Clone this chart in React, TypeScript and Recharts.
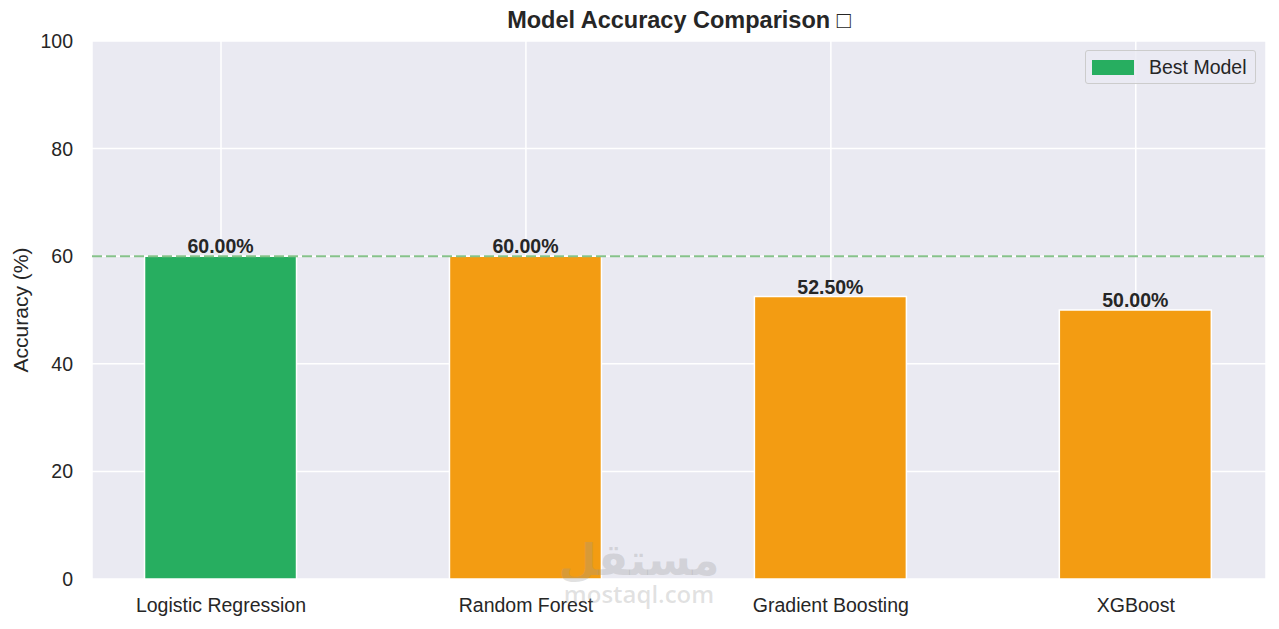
import React from 'react';
import {
  BarChart,
  Bar,
  Cell,
  XAxis,
  YAxis,
  CartesianGrid,
  ReferenceLine,
  LabelList,
} from 'recharts';

const models = ['Logistic Regression', 'Random Forest', 'Gradient Boosting', 'XGBoost'];
const accuracy = [60.0, 60.0, 52.5, 50.0];
const yTicks = [0, 20, 40, 60, 80, 100];
const bestAccuracy = 60.0;

const GREEN = '#27AE60';
const ORANGE = '#F39C12';
const TEXT = '#262626';
const FONT = '"Liberation Sans", Arial, sans-serif';

const data = models.map((name, i) => ({ idx: i, name, value: accuracy[i] }));

function LegendBox() {
  return (
    <div
      style={{
        position: 'absolute',
        left: 1085,
        top: 50,
        width: 171,
        height: 34,
        border: '1px solid #cccccc',
        borderRadius: 3,
        background: 'rgba(234,234,242,0.8)',
        boxSizing: 'border-box',
        fontFamily: FONT,
        fontSize: 19.5,
        color: TEXT,
        display: 'flex',
        alignItems: 'center',
      }}
    >
      <span style={{ display: 'inline-block', width: 42, height: 15, background: GREEN, marginLeft: 6 }} />
      <span style={{ marginLeft: 15 }}>Best Model</span>
    </div>
  );
}

export default function App() {
  return (
    <div style={{ position: 'absolute', left: 0, top: 0, width: 1279, height: 629, background: '#fff', fontFamily: FONT }}>
      <div
        style={{
          position: 'absolute',
          left: 92,
          width: 1174,
          top: 8,
          textAlign: 'center',
          fontWeight: 'bold',
          fontSize: 23.5,
          color: TEXT,
          lineHeight: 1.1,
        }}
      >
        Model Accuracy Comparison □
      </div>
      <BarChart
        width={1279}
        height={629}
        data={data}
        margin={{ top: 41, right: 13, bottom: 0, left: 0 }}
      >
        <CartesianGrid fill="#EAEAF2" stroke="#ffffff" strokeWidth={1.5} />
        <XAxis
          dataKey="idx"
          type="number"
          domain={[-0.423, 3.427]}
          ticks={[0, 1, 2, 3]}
          tickFormatter={(v: number) => models[v]}
          axisLine={false}
          tickLine={false}
          tickSize={0}
          tickMargin={19}
          height={50}
          tick={{ fill: TEXT, fontSize: 19.5, fontFamily: FONT }}
          allowDataOverflow
        />
        <YAxis
          domain={[0, 100]}
          ticks={yTicks}
          axisLine={false}
          tickLine={false}
          tickSize={0}
          tickMargin={19}
          width={92}
          tick={{ fill: TEXT, fontSize: 19.5, fontFamily: FONT }}
          label={{
            value: 'Accuracy (%)',
            angle: -90,
            position: 'insideLeft',
            offset: 21,
            style: { textAnchor: 'middle', fill: TEXT, fontSize: 21, fontFamily: FONT },
          }}
        />
        <Bar dataKey="value" barSize={152} stroke="#ffffff" strokeWidth={1.5} isAnimationActive={false}>
          {data.map((d, i) => (
            <Cell key={`cell-${i}`} fill={i === 0 ? GREEN : ORANGE} />
          ))}
          <LabelList
            dataKey="value"
            position="top"
            offset={3}
            formatter={(v: number) => `${v.toFixed(2)}%`}
            style={{ fill: TEXT, fontWeight: 'bold', fontSize: 19.5, fontFamily: FONT }}
          />
        </Bar>
        <ReferenceLine
          y={bestAccuracy}
          stroke="#86C28A"
          strokeWidth={2}
          strokeDasharray="10 4"
        />
      </BarChart>
      <LegendBox />
      <div
        style={{
          position: 'absolute',
          left: 539,
          width: 200,
          top: 538,
          textAlign: 'center',
          color: 'rgba(150,150,150,0.28)',
          fontFamily: '"DejaVu Sans", sans-serif',
          fontWeight: 'bold',
          pointerEvents: 'none',
          lineHeight: 1,
        }}
      >
        <div style={{ fontSize: 44 }}>مستقل</div>
        <div style={{ fontSize: 24, fontFamily: '"Open Sans", sans-serif', fontWeight: 600, marginTop: 0 }}>mostaql.com</div>
      </div>
    </div>
  );
}
